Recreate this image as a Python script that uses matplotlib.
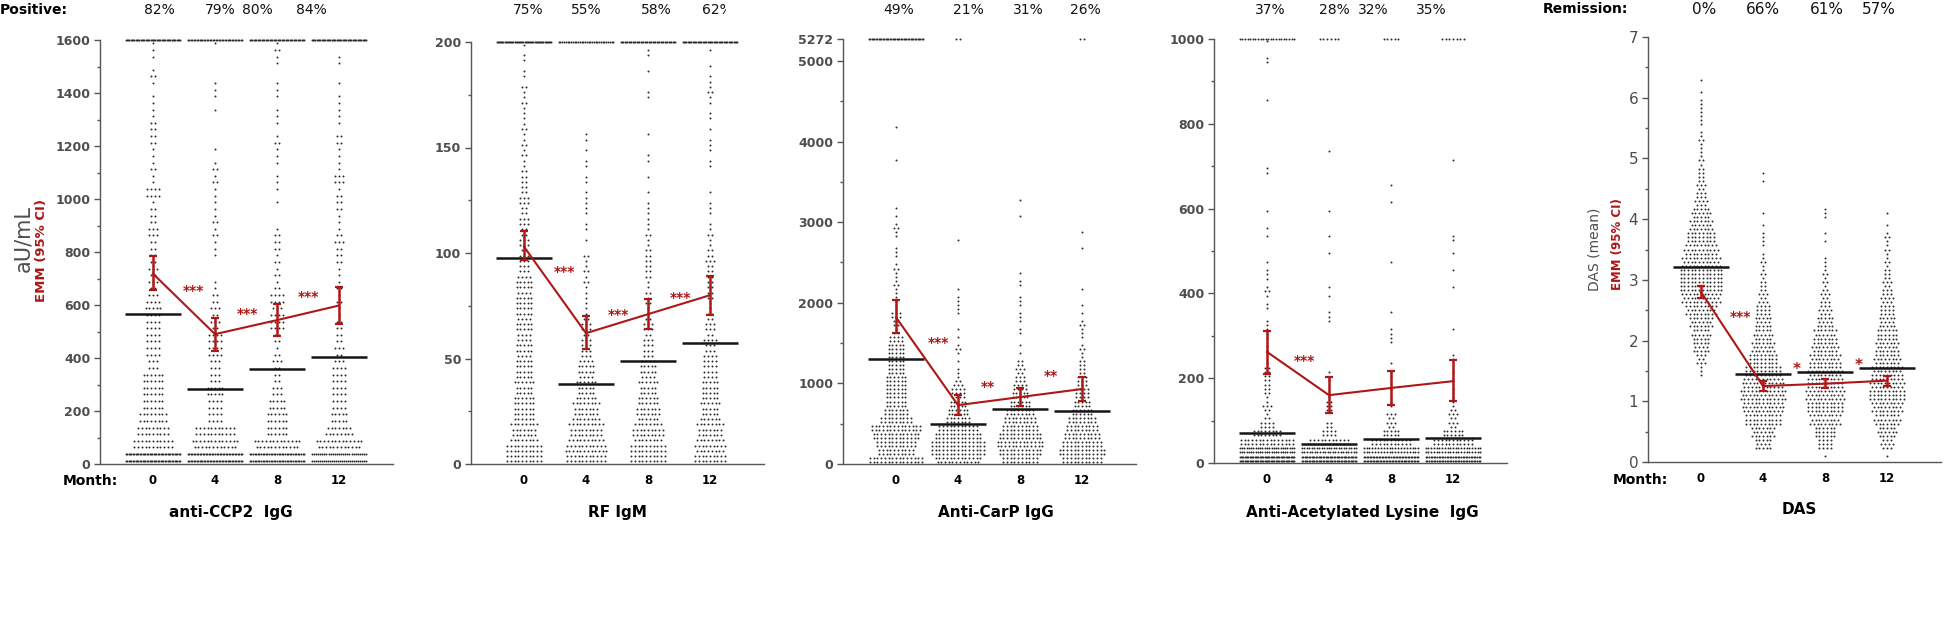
import numpy as np
import matplotlib.pyplot as plt
from matplotlib.ticker import FixedLocator
from matplotlib.transforms import Bbox, ScaledTranslation, blended_transform_factory

W, H = 1946, 619
RED = '#AF1616'
GREY = '#4D4D4D'
DOT = '#2B2B2B'

months = ['0', '4', '8', '12']

# anti-CCP2 IgG (aU/mL): number of patients per 50 aU/mL bin, values above range drawn at 1600
ccp2_counts = [
    [80, 22, 18, 16, 12, 12, 12, 6, 8, 8, 8, 9, 7, 5, 5, 4, 4, 6, 4, 3, 8, 2, 3, 2, 4, 4, 2, 2, 1, 3, 1, 2],
    [75, 25, 22, 8, 8, 10, 6, 6, 8, 8, 5, 5, 4, 2, 0, 1, 2, 3, 3, 2, 2, 3, 3, 1, 0, 0, 1, 1, 2, 0, 0, 1],
    [70, 25, 12, 12, 10, 6, 4, 5, 3, 4, 8, 7, 8, 3, 3, 3, 4, 3, 0, 1, 1, 2, 1, 2, 3, 1, 2, 1, 2, 0, 2, 3],
    [55, 25, 15, 10, 8, 8, 8, 7, 5, 4, 4, 2, 3, 3, 2, 4, 5, 3, 2, 4, 3, 6, 2, 2, 4, 1, 2, 2, 1, 0, 2, 0],
]
ccp2_capped = [45, 38, 42, 45]
ccp2_mean = [565, 283, 358, 405]
ccp2_emm = [718, 490, 543, 598]
ccp2_lo = [655, 428, 483, 530]
ccp2_hi = [785, 550, 605, 667]
ccp2_positive = ['82%', '79%', '80%', '84%']

# RF IgM: per 10 unit bin, values above range drawn at 200
rf_counts = [
    [40, 30, 24, 22, 20, 18, 18, 20, 18, 12, 10, 10, 10, 8, 5, 6, 4, 6, 2, 3],
    [45, 38, 30, 22, 18, 12, 10, 4, 5, 6, 1, 3, 4, 2, 3, 2],
    [40, 34, 26, 22, 18, 12, 10, 5, 6, 8, 6, 4, 3, 1, 2, 1, 0, 2, 1, 2],
    [35, 30, 22, 20, 16, 14, 10, 6, 8, 9, 6, 3, 3, 0, 3, 3, 2, 5, 3, 1],
]
rf_capped = [50, 32, 42, 45]
rf_mean = [97.5, 38, 49, 57.5]
rf_emm = [103, 62, 71, 80]
rf_lo = [96.5, 54.5, 64, 70.5]
rf_hi = [110.5, 70, 78, 89]
rf_positive = ['75%', '55%', '58%', '62%']

# Anti-CarP IgG: per 100 unit bin, values above range drawn at 5272
carp_counts = [
    [30, 20, 22, 26, 28, 18, 14, 12, 12, 12, 12, 10, 10, 10, 10, 8, 3, 4, 6, 2, 2, 2, 3, 2, 3, 1,
     2, 0, 2, 3, 1, 1, 0, 0, 0, 0, 0, 1, 0, 0, 0, 1],
    [25, 30, 30, 26, 22, 14, 12, 10, 8, 7, 3, 2, 1, 1, 3, 1, 1, 0, 1, 2, 2, 1, 0, 0, 0, 0, 0, 1],
    [20, 24, 26, 24, 20, 18, 16, 12, 10, 8, 6, 5, 4, 1, 1, 0, 2, 1, 2, 1, 2, 0, 2, 1, 0, 0, 0, 0,
     0, 0, 1, 0, 1],
    [22, 26, 22, 20, 18, 16, 12, 10, 8, 7, 6, 4, 4, 2, 3, 1, 2, 3, 1, 1, 0, 1, 0, 0, 0, 0, 1, 0, 1],
]
carp_capped = [40, 2, 0, 2]
carp_mean = [1300, 490, 680, 660]
carp_emm = [1820, 730, 830, 930]
carp_lo = [1620, 610, 720, 785]
carp_hi = [2040, 850, 940, 1075]
carp_positive = ['49%', '21%', '31%', '26%']

# Anti-Acetylated Lysine IgG: per 20 unit bin, values above range drawn at 1000
aclys_counts = [
    [90, 50, 30, 16, 8, 3, 5, 2, 4, 4, 4, 3, 0, 2, 1, 2, 2, 0, 2, 1, 3, 1, 2, 1, 0, 0, 1, 1, 0, 1,
     0, 0, 0, 0, 2, 0, 0, 0, 0, 0, 0, 0, 1, 0, 0, 0, 0, 2, 0, 1],
    [80, 45, 22, 8, 4, 0, 4, 3, 0, 1, 1, 0, 0, 0, 0, 0, 1, 2, 0, 1, 1, 0, 0, 0, 1, 0, 1, 0, 0, 1,
     0, 0, 0, 0, 0, 0, 1],
    [75, 40, 22, 10, 5, 5, 1, 2, 1, 0, 2, 1, 0, 0, 2, 2, 0, 1, 0, 0, 0, 0, 0, 1, 0, 0, 0, 0, 0, 0,
     1, 0, 1],
    [70, 42, 22, 12, 5, 5, 3, 2, 2, 1, 1, 0, 2, 0, 0, 1, 0, 0, 0, 0, 1, 0, 1, 0, 1, 0, 2, 0, 0, 0,
     0, 0, 0, 0, 0, 1],
]
aclys_capped = [22, 6, 5, 7]
aclys_mean = [70, 45, 56, 60]
aclys_emm = [262, 160, 177, 193]
aclys_lo = [210, 118, 137, 146]
aclys_hi = [312, 202, 217, 242]
aclys_positive = ['37%', '28%', '32%', '35%']

# DAS: per 0.2 bin
das_counts = [
    [0, 0, 0, 0, 0, 0, 0, 3, 8, 14, 16, 20, 26, 32, 36, 36, 32, 28, 24, 20, 16, 10, 8, 6, 5, 3, 4, 2, 3, 3, 1, 1],
    [0, 14, 20, 30, 34, 38, 34, 30, 24, 20, 16, 14, 12, 8, 6, 4, 4, 2, 3, 1, 1, 0, 0, 2],
    [1, 12, 18, 26, 30, 32, 30, 28, 26, 22, 20, 14, 10, 8, 5, 4, 3, 0, 2, 0, 3],
    [1, 10, 16, 22, 26, 30, 28, 26, 22, 20, 18, 14, 12, 10, 8, 6, 4, 4, 4, 1, 1],
]
das_capped = [0, 0, 0, 0]
das_mean = [3.21, 1.45, 1.48, 1.55]
das_emm = [2.80, 1.25, 1.29, 1.34]
das_lo = [2.70, 1.17, 1.22, 1.26]
das_hi = [2.90, 1.33, 1.36, 1.42]
das_remission = ['0%', '66%', '61%', '57%']


def swarm(x0, counts, step, rows, capped, top, dx=0.06, half=0.44):
    # lay out each bin as centred horizontal rows of dots, like a GraphPad scatter
    xs, ys = [], []

    def add_row(y, n):
        if n <= 0:
            return
        sp = dx if n == 1 else min(dx, 2 * half / (n - 1))
        off = (np.arange(n) - (n - 1) / 2) * sp
        xs.extend(x0 + off)
        ys.extend([y] * n)

    for b, c in enumerate(counts):
        split = np.diff(np.round(np.linspace(0, c, rows + 1))).astype(int)
        for k, n in enumerate(split):
            add_row((b + (k + 0.5) / rows) * step, n)
    add_row(top, capped)
    return xs, ys


panels = [
    dict(name='anti-CCP2  IgG', counts=ccp2_counts, capped=ccp2_capped, step=50, rows=2, top=1600,
         mean=ccp2_mean, emm=ccp2_emm, lo=ccp2_lo, hi=ccp2_hi, pct=ccp2_positive,
         yticks=list(range(0, 1601, 200)), minor=[100 + 200 * i for i in range(8)],
         px=(100, 40, 464), pct_x=[0.11, 1.08, 1.69, 2.55], title_x=1.26,
         stars=[(0.65, 668, '***'), (1.52, 581, '***'), (2.5, 645, '***')]),
    dict(name='RF IgM', counts=rf_counts, capped=rf_capped, step=10, rows=4, top=200,
         mean=rf_mean, emm=rf_emm, lo=rf_lo, hi=rf_hi, pct=rf_positive,
         yticks=[0, 50, 100, 150, 200], minor=[25, 75, 125, 175],
         px=(471, 42, 464), pct_x=[0.06, 1.0, 2.13, 3.12], title_x=1.5,
         stars=[(0.66, 93, '***'), (1.52, 72.5, '***'), (2.52, 80.5, '***')]),
    dict(name='Anti-CarP IgG', counts=carp_counts, capped=carp_capped, step=100, rows=2, top=5272,
         mean=carp_mean, emm=carp_emm, lo=carp_lo, hi=carp_hi, pct=carp_positive,
         yticks=[0, 1000, 2000, 3000, 4000, 5000, 5272], minor=[500, 1500, 2500, 3500, 4500],
         px=(843, 39, 464), pct_x=[0.05, 1.16, 2.13, 3.06], title_x=1.61,
         stars=[(0.69, 1550, '***'), (1.48, 1005, '**'), (2.5, 1141, '**')]),
    dict(name='Anti-Acetylated Lysine  IgG', counts=aclys_counts, capped=aclys_capped, step=20, rows=2,
         top=1000, mean=aclys_mean, emm=aclys_emm, lo=aclys_lo, hi=aclys_hi, pct=aclys_positive,
         yticks=list(range(0, 1001, 200)), minor=[100, 300, 500, 700, 900],
         px=(1214, 39, 463), pct_x=[0.06, 1.08, 1.71, 2.65], title_x=1.53,
         stars=[(0.6, 250, '***')]),
    dict(name='DAS', counts=das_counts, capped=das_capped, step=0.2, rows=3, top=7,
         mean=das_mean, emm=das_emm, lo=das_lo, hi=das_hi, pct=das_remission,
         yticks=list(range(8)), minor=[0.5 + i for i in range(7)],
         px=(1648, 37, 462), pct_x=[0.05, 1.0, 2.03, 2.87], title_x=1.58,
         stars=[(0.63, 2.45, '***'), (1.55, 1.6, '*'), (2.55, 1.65, '*')]),
]

fig = plt.figure(figsize=(W / 100, H / 100), dpi=100)

for p in panels:
    left, top_px, bot_px = p['px']
    ax = fig.add_axes([left / W, 1 - bot_px / H, 293 / W, (bot_px - top_px) / H])
    is_das = p['name'] == 'DAS'

    for g in range(4):
        xs, ys = swarm(g, p['counts'][g], p['step'], p['rows'], p['capped'][g], p['top'])
        ax.scatter(xs, ys, s=2.0, color=DOT, linewidths=0, zorder=2, clip_on=False)
        ax.hlines(p['mean'][g], g - 0.45, g + 0.45, color='#151515', lw=1.8, zorder=3)

    emm = np.array(p['emm'])
    ax.errorbar(range(4), emm, yerr=[emm - np.array(p['lo']), np.array(p['hi']) - emm],
                color=RED, lw=1.5, elinewidth=1.8, capsize=3, capthick=1.6, zorder=5)

    ax.set_xlim(-53 / 62, 240 / 62)
    ax.set_ylim(0, p['top'])
    for s in ['top', 'right']:
        ax.spines[s].set_visible(False)
    for s in ['left', 'bottom']:
        ax.spines[s].set_color('#555555')
        ax.spines[s].set_linewidth(1.0)

    ax.set_xticks(range(4))
    ax.set_xticklabels(months, fontsize=8.5, fontweight='bold')
    ax.tick_params(axis='x', length=0, pad=7)
    ax.yaxis.set_major_locator(FixedLocator(p['yticks']))
    ax.yaxis.set_minor_locator(FixedLocator(p['minor']))
    ax.tick_params(axis='y', which='major', length=4, width=1, color='#555555', pad=3,
                   labelcolor=GREY, labelsize=11 if is_das else 9)
    ax.tick_params(axis='y', which='minor', length=2.5, width=1, color='#555555')
    if not is_das:
        for lbl in ax.get_yticklabels():
            lbl.set_fontweight('bold')

    tr = blended_transform_factory(ax.transData, fig.transFigure)
    for g in range(4):
        t = ax.text(p['pct_x'][g], 1 - 10 / H, p['pct'][g], transform=tr, ha='center', va='center',
                    fontsize=11 if is_das else 10, color='#111111')
        if p['name'] == 'RF IgM' and g == 3:
            # the last label is cut off by the next panel in the original
            t.set_clip_on(True)
            t.set_clip_box(Bbox.from_extents(0, 0, 726, H))
    ax.text(p['title_x'], 1 - (510 if is_das else 513) / H, p['name'], transform=tr,
            ha='center', va='center', fontsize=11, fontweight='bold')

    down = ax.transData + ScaledTranslation(0, -3 / 72, fig.dpi_scale_trans)
    for sx, sy, st in p['stars']:
        ax.text(sx, sy, st, transform=down, ha='center', va='center', color=RED,
                fontsize=11 if st == '*' else 10, fontweight='bold', zorder=6)

fig.text(0, 1 - 10 / H, 'Positive:', ha='left', va='center', fontsize=10, fontweight='bold')
fig.text(1543 / W, 1 - 9 / H, 'Remission:', ha='left', va='center', fontsize=10, fontweight='bold')
fig.text(63 / W, 1 - 481 / H, 'Month:', ha='left', va='center', fontsize=10, fontweight='bold')
fig.text(1613 / W, 1 - 480 / H, 'Month:', ha='left', va='center', fontsize=10, fontweight='bold')

fig.text(23 / W, 1 - 238 / H, 'aU/mL', rotation=90, ha='center', va='center', fontsize=15, color=GREY)
fig.text(42 / W, 1 - 250 / H, 'EMM (95% CI)', rotation=90, ha='center', va='center',
         fontsize=9.5, color=RED, fontweight='bold')
fig.text(1595 / W, 1 - 249 / H, 'DAS (mean)', rotation=90, ha='center', va='center', fontsize=10,
         color=GREY)
fig.text(1617 / W, 1 - 244 / H, 'EMM (95% CI)', rotation=90, ha='center', va='center',
         fontsize=8.5, color=RED, fontweight='bold')

fig.savefig('out.png', dpi=100)
